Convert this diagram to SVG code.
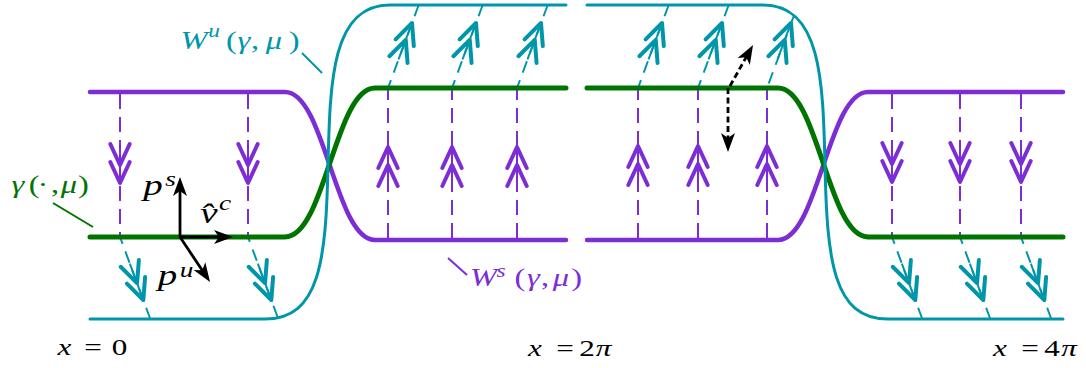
<svg xmlns="http://www.w3.org/2000/svg" width="1086" height="368" viewBox="0 0 1086 368">
<style>
.curve{fill:none;stroke-linecap:round;stroke-linejoin:round}
.pw{stroke:#7c2dd6;stroke-width:4.5}
.gw{stroke:#007400;stroke-width:5}
.tw{stroke:#0096aa;stroke-width:3}
.pd{fill:none;stroke:#7c2dd6;stroke-width:2;stroke-dasharray:15 8}
.td{fill:none;stroke:#0096aa;stroke-width:2;stroke-dasharray:12 8}
.bk{fill:none;stroke:#000;stroke-width:2.8}
.bkd{fill:none;stroke:#000;stroke-width:2.8;stroke-dasharray:6 3.5}
.ld{fill:none;stroke-width:2}
.m{font-family:"Liberation Serif","Times New Roman",serif;text-anchor:middle}
.i{font-style:italic}
</style>
<defs>
<g id="dchev" fill="none" stroke-linecap="round" stroke-linejoin="round">
<path d="M-38,0 H0" stroke-width="2"/>
<path d="M-21,-9.7 L0,0 L-21,9.7 M-39,-9.7 L-18,0 L-39,9.7" stroke-width="4"/>
</g>
<marker id="ah" markerUnits="userSpaceOnUse" viewBox="-20 -8 21 16" markerWidth="21" markerHeight="16" refX="-6" refY="0" orient="auto"><path d="M0,0 L-19,-7 L-14,0 L-19,7 Z" fill="#000"/></marker>
</defs>

<g id="connectors">
<g id="stable-fibers">
<path class="pd" d="M120,94 V235 M248,94 V235 M892,94 V235 M960,94 V235 M1021,94 V235"/>
<path class="pd" d="M388,238 V90 M452,238 V90 M517,238 V90 M638,238 V90 M698,238 V90 M767,238 V90"/>
</g>
<g id="unstable-fibers">
<path class="td" d="M150.3,319 L120,237 M277.6,317 L248,237 M922.3,319 L892,237 M990.3,319 L960,237 M1051.3,319 L1021,237"/>
<path class="td" d="M418.7,5 L388,88 M482.7,5 L452,88 M547.7,5 L517,88 M668.7,5 L638,88 M728.7,5 L698,88 M793.8,16 L767,88"/>
</g>
</g>

<g id="Ws" class="curve pw">
<path d="M90,92 H285 C325,92 335,240 375,240 H566"/>
<path d="M587,240 H778 C818,240 828,92 868,92 H1063"/>
</g>
<g id="gamma" class="curve gw">
<path d="M90,237 H285 C325,237 335,88 375,88 H566"/>
<path d="M587,88 H778 C818,88 828,237 868,237 H1063"/>
</g>
<g id="Wu" class="curve tw">
<path d="M90,319 H265 C320,319 326,260 328,165 C330,80 332,5 390,5 H566"/>
<path d="M587,5 H763 C821,5 823,80 825,165 C827,260 833,319 888,319 H1063"/>
</g>

<g id="stable-arrows" stroke="#7c2dd6">
<use href="#dchev" transform="translate(120,183) rotate(90)"/>
<use href="#dchev" transform="translate(248,183) rotate(90)"/>
<use href="#dchev" transform="translate(892,182) rotate(90)"/>
<use href="#dchev" transform="translate(960,182) rotate(90)"/>
<use href="#dchev" transform="translate(1021,182) rotate(90)"/>
<use href="#dchev" transform="translate(388,147) rotate(-90)"/>
<use href="#dchev" transform="translate(452,147) rotate(-90)"/>
<use href="#dchev" transform="translate(517,147) rotate(-90)"/>
<use href="#dchev" transform="translate(638,146) rotate(-90)"/>
<use href="#dchev" transform="translate(698,146) rotate(-90)"/>
<use href="#dchev" transform="translate(767,146) rotate(-90)"/>
</g>
<g id="unstable-arrows" stroke="#0096aa">
<use href="#dchev" transform="translate(143.3,300) rotate(69.7)"/>
<use href="#dchev" transform="translate(271.3,300) rotate(69.7)"/>
<use href="#dchev" transform="translate(915.3,300) rotate(69.7)"/>
<use href="#dchev" transform="translate(983.3,300) rotate(69.7)"/>
<use href="#dchev" transform="translate(1044.3,300) rotate(69.7)"/>
<use href="#dchev" transform="translate(412,23) rotate(-69.7)"/>
<use href="#dchev" transform="translate(476,23) rotate(-69.7)"/>
<use href="#dchev" transform="translate(541,23) rotate(-69.7)"/>
<use href="#dchev" transform="translate(662,23) rotate(-69.7)"/>
<use href="#dchev" transform="translate(722,23) rotate(-69.7)"/>
<use href="#dchev" transform="translate(791,23) rotate(-69.7)"/>
</g>

<g id="frame">
<line class="bk" x1="180" y1="237" x2="180" y2="183" marker-end="url(#ah)"/>
<line class="bk" x1="180" y1="237" x2="227" y2="237" marker-end="url(#ah)"/>
<line class="bk" x1="180" y1="237" x2="206.7" y2="277" marker-end="url(#ah)"/>
<text class="m" transform="scale(1.3,1)" font-size="30" xml:space="preserve"><tspan class="i" x="117.7" y="195">p</tspan><tspan class="i" x="131.2" y="186" font-size="21">s</tspan></text>
<text class="m" transform="scale(1.3,1)" font-size="30" xml:space="preserve"><tspan class="i" x="160.8" y="223">v̂</tspan><tspan class="i" x="173.1" y="210" font-size="21">c</tspan></text>
<text class="m" transform="scale(1.3,1)" font-size="30" xml:space="preserve"><tspan class="i" x="128.8" y="285">p</tspan><tspan class="i" x="143.5" y="277" font-size="21">u</tspan></text>
</g>

<g id="perturb">
<line class="bkd" x1="728" y1="88" x2="728" y2="146" marker-end="url(#ah)"/>
<line class="bkd" x1="730" y1="86" x2="750.1" y2="50.2" marker-end="url(#ah)"/>
</g>

<g id="label-gamma">
<path class="ld" stroke="#007400" d="M53,203 L93,227"/>
<text class="m" transform="scale(1.3,1)" y="193" font-size="25" fill="#007400" xml:space="preserve"><tspan class="i" x="13.8">γ</tspan><tspan x="26.2 33.1 42.3 44.6">(·, </tspan><tspan class="i" x="53.1">μ</tspan><tspan x="64.2">)</tspan></text>
</g>
<g id="label-Wu">
<path class="ld" stroke="#0096aa" d="M302,53 L322,73"/>
<text class="m" transform="scale(1.3,1)" y="49" font-size="25" fill="#0096aa" xml:space="preserve"><tspan class="i" x="149.2">W</tspan><tspan class="i" x="164.6" y="37" font-size="18">u</tspan><tspan x="178.1" y="49">(</tspan><tspan class="i" x="187.7">γ</tspan><tspan x="196.2 200">, </tspan><tspan class="i" x="210.8">μ</tspan><tspan x="226.2">)</tspan></text>
</g>
<g id="label-Ws">
<path class="ld" stroke="#7c2dd6" d="M448,258 L467,275"/>
<text class="m" transform="scale(1.3,1)" y="286" font-size="25" fill="#7c2dd6" xml:space="preserve"><tspan class="i" x="371.9">W</tspan><tspan class="i" x="385.4" y="277" font-size="18">s</tspan><tspan x="400" y="286">(</tspan><tspan class="i" x="410.4">γ</tspan><tspan x="419.2 422.3">, </tspan><tspan class="i" x="431.5">μ</tspan><tspan x="443.5">)</tspan></text>
</g>

<g id="x-labels">
<text class="m" transform="scale(1.3,1)" y="355" font-size="24" xml:space="preserve"><tspan class="i" x="49.6">x</tspan><tspan x="60 71.5 82 91.9"> = 0</tspan></text>
<text class="m" transform="scale(1.3,1)" y="356" font-size="24" xml:space="preserve"><tspan class="i" x="411.5">x</tspan><tspan x="423 434.6 445 451.5"> = 2</tspan><tspan class="i" x="464.2">π</tspan></text>
<text class="m" transform="scale(1.3,1)" y="356" font-size="24" xml:space="preserve"><tspan class="i" x="769.2">x</tspan><tspan x="781 792.3 803 809.2"> = 4</tspan><tspan class="i" x="822.3">π</tspan></text>
</g>
</svg>
